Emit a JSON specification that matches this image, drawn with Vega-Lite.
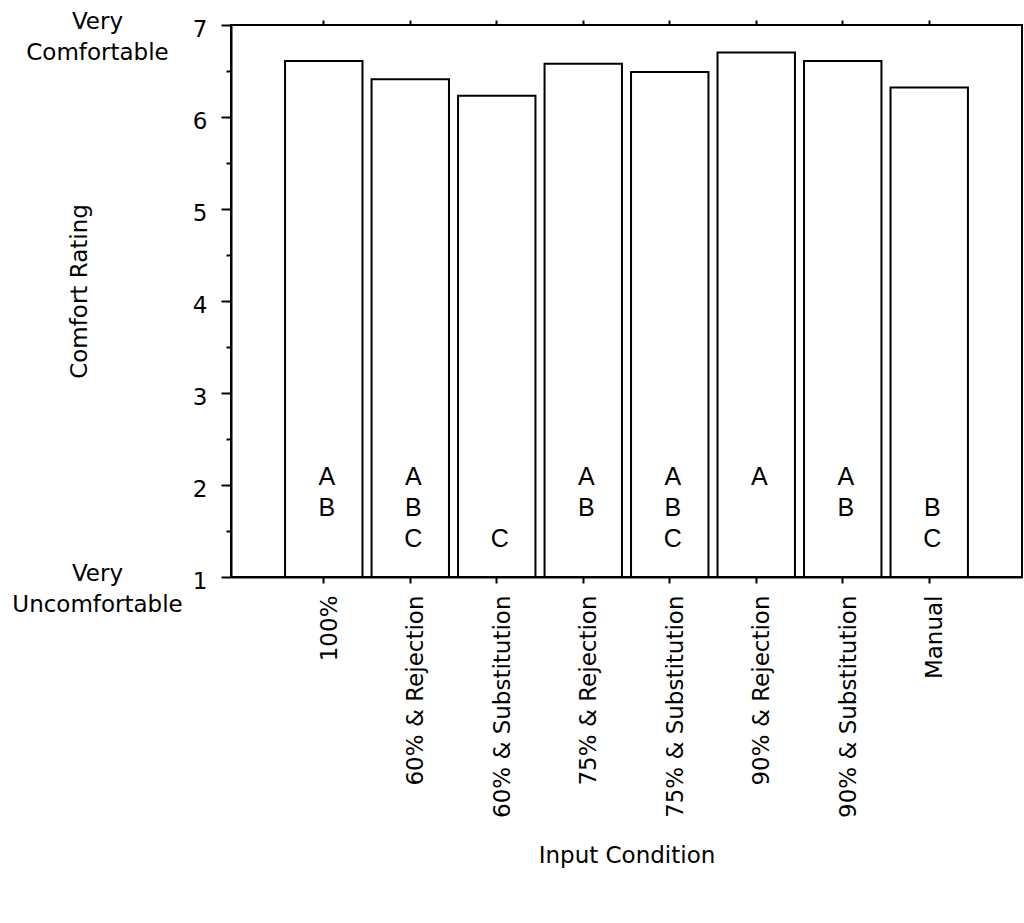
{
  "$schema": "https://vega.github.io/schema/vega-lite/v6.json",
  "width": 791,
  "height": 552,
  "autosize": "none",
  "padding": {"left": 231, "top": 25, "right": 2, "bottom": 346},
  "background": "white",
  "config": {
    "view": {"stroke": "black", "strokeWidth": 2},
    "font": "DejaVu Sans",
    "axis": {
      "grid": false,
      "labelFont": "DejaVu Sans",
      "titleFont": "DejaVu Sans",
      "labelColor": "black",
      "titleColor": "black",
      "tickColor": "black",
      "domainColor": "black",
      "titleFontWeight": "normal",
      "labelFontSize": 23,
      "titleFontSize": 23,
      "labelLimit": 0
    }
  },
  "datasets": {
    "bars": [
      {"condition": "100%", "rating": 6.61},
      {"condition": "60% & Rejection", "rating": 6.41},
      {"condition": "60% & Substitution", "rating": 6.23},
      {"condition": "75% & Rejection", "rating": 6.58},
      {"condition": "75% & Substitution", "rating": 6.49},
      {"condition": "90% & Rejection", "rating": 6.70},
      {"condition": "90% & Substitution", "rating": 6.61},
      {"condition": "Manual", "rating": 6.32}
    ],
    "letters": [
      {"condition": "100%", "letter": "A"},
      {"condition": "100%", "letter": "B"},
      {"condition": "60% & Rejection", "letter": "A"},
      {"condition": "60% & Rejection", "letter": "B"},
      {"condition": "60% & Rejection", "letter": "C"},
      {"condition": "60% & Substitution", "letter": "C"},
      {"condition": "75% & Rejection", "letter": "A"},
      {"condition": "75% & Rejection", "letter": "B"},
      {"condition": "75% & Substitution", "letter": "A"},
      {"condition": "75% & Substitution", "letter": "B"},
      {"condition": "75% & Substitution", "letter": "C"},
      {"condition": "90% & Rejection", "letter": "A"},
      {"condition": "90% & Substitution", "letter": "A"},
      {"condition": "90% & Substitution", "letter": "B"},
      {"condition": "Manual", "letter": "B"},
      {"condition": "Manual", "letter": "C"}
    ]
  },
  "resolve": {
    "scale": {"y": "independent"},
    "axis": {"x": "independent", "y": "independent"}
  },
  "layer": [
    {
      "data": {"name": "bars"},
      "mark": {"type": "bar", "fill": "white", "stroke": "black", "strokeWidth": 2},
      "encoding": {
        "x": {
          "field": "condition", "type": "nominal", "sort": null,
          "scale": {"paddingInner": 0.105, "paddingOuter": 0.625},
          "axis": {
            "orient": "bottom", "title": "Input Condition",
            "labelAngle": -90, "labelAlign": "right", "labelBaseline": "middle",
            "tickSize": 6, "tickWidth": 2, "domainWidth": 2,
            "labelPadding": 12, "labelOffset": 6,
            "titleY": 278, "titleBaseline": "middle"
          }
        },
        "y": {
          "field": "rating", "type": "quantitative",
          "scale": {"domain": [1, 7], "nice": false, "zero": false},
          "axis": {
            "orient": "left", "values": [1, 2, 3, 4, 5, 6, 7],
            "tickSize": 10, "tickWidth": 2, "domainWidth": 2,
            "labelPadding": 14, "labelOffset": 4,
            "title": "Comfort Rating", "titleAngle": -90,
            "titleX": -152, "titleY": 266,
            "titleAlign": "center", "titleBaseline": "middle"
          }
        },
        "y2": {"datum": 1}
      }
    },
    {
      "data": {"name": "bars"},
      "mark": {"type": "text", "text": ""},
      "encoding": {
        "x": {
          "field": "condition", "type": "nominal", "sort": null,
          "axis": {"orient": "top", "labels": false, "domain": false, "tickSize": 5, "tickWidth": 2, "title": null}
        },
        "y": {
          "field": "rating", "type": "quantitative",
          "scale": {"domain": [1, 7], "nice": false, "zero": false},
          "axis": {
            "orient": "left", "values": [1.5, 2.5, 3.5, 4.5, 5.5, 6.5],
            "labels": false, "domain": false, "tickSize": 5, "tickWidth": 2, "title": null
          }
        }
      }
    },
    {
      "data": {"name": "bars"},
      "mark": {"type": "text", "text": ""},
      "encoding": {
        "x": {"field": "condition", "type": "nominal", "sort": null, "axis": null},
        "y": {
          "field": "rating", "type": "quantitative",
          "scale": {"domain": [1, 7], "nice": false, "zero": false},
          "axis": {
            "orient": "left", "values": [1, 7],
            "ticks": false, "tickSize": 0, "domain": false, "title": null,
            "labelExpr": "datum.value == 7 ? ['Very', 'Comfortable'] : ['Very', 'Uncomfortable']",
            "labelAlign": "center", "labelBaseline": "middle",
            "labelPadding": 134, "labelLineHeight": 31, "labelOffset": -4
          }
        }
      }
    },
    {
      "data": {"name": "letters"},
      "mark": {"type": "text", "font": "Liberation Sans", "fontSize": 25, "color": "black", "baseline": "middle", "align": "center", "dx": 3},
      "encoding": {
        "x": {"field": "condition", "type": "nominal", "sort": null, "axis": null},
        "y": {
          "field": "letter", "type": "nominal",
          "scale": {"type": "point", "domain": ["A", "B", "C"], "range": [452, 514], "padding": 0},
          "axis": null
        },
        "text": {"field": "letter"}
      }
    }
  ]
}
